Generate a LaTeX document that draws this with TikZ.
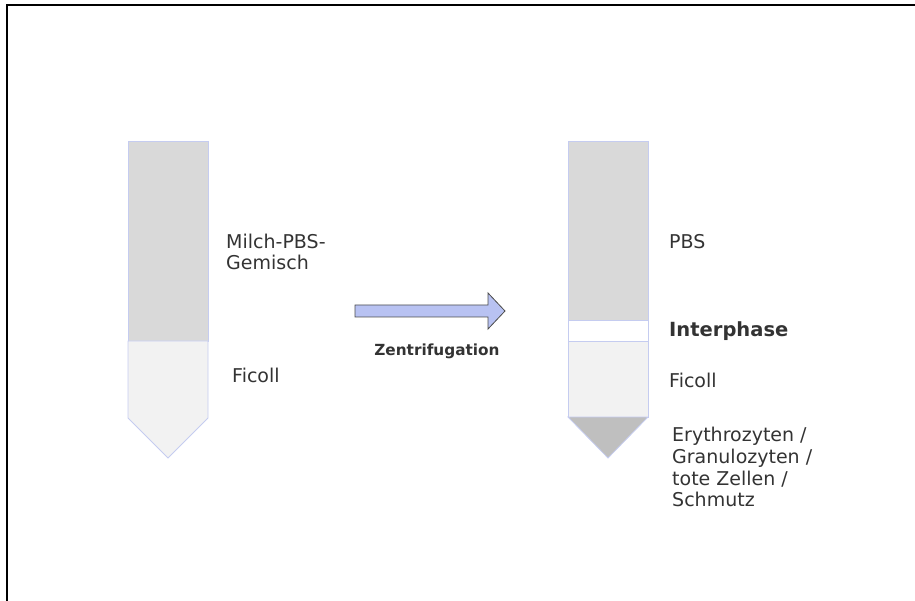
\documentclass[tikz,border=0pt]{standalone}
\usepackage{fontspec}
\setmainfont{DejaVu Sans}
\definecolor{tubeline}{HTML}{C5CCF0}
\definecolor{darkfill}{HTML}{D9D9D9}
\definecolor{lightfill}{HTML}{F2F2F2}
\definecolor{sedfill}{HTML}{BFBFBF}
\definecolor{arrowfill}{HTML}{B8C2F2}
\definecolor{txt}{HTML}{333333}
\begin{document}
\begin{tikzpicture}[x=1pt,y=-1pt,
  layer/.style={draw=tubeline,line width=0.8pt},
  lbl/.style={anchor=west,inner sep=0pt,text=txt,font=\fontsize{19}{21.7}\selectfont,align=left},
  blbl/.style={lbl,font=\fontsize{19.5}{21.7}\selectfont\bfseries}]
\useasboundingbox (0,0) rectangle (915,601);
% frame
\draw[line width=2pt] (7,601) -- (7,5) -- (915,5);
% left tube
\filldraw[layer,fill=darkfill] (128,141) rectangle (208,341);
\filldraw[layer,fill=lightfill] (128,341) -- (208,341) -- (208,418) -- (168,458) -- (128,418) -- cycle;
% right tube
\filldraw[layer,fill=darkfill] (568,141) rectangle (648,320);
\filldraw[layer,fill=white] (568,320) rectangle (648,341);
\filldraw[layer,fill=lightfill] (568,341) rectangle (648,417);
\filldraw[layer,fill=sedfill] (568,417) -- (648,417) -- (608,458) -- cycle;
% arrow
\filldraw[draw=black!70,line width=0.8pt,fill=arrowfill]
  (355,305) -- (488,305) -- (488,293) -- (505,311) -- (488,329) -- (488,317) -- (355,317) -- cycle;
% labels
\node[lbl] (mix) at (226,252) {Milch-PBS-\\Gemisch};
\node[lbl] (fic1) at (232,375) {Ficoll};
\node[blbl,font=\fontsize{15.3}{18}\selectfont\bfseries,anchor=center] (zen) at (437,351) {Zentrifugation};
\node[lbl] (pbs) at (669,242) {PBS};
\node[blbl] (inter) at (669,331) {Interphase};
\node[lbl] (fic2) at (669,380) {Ficoll};
\node[lbl,anchor=north west] (ery) at (672,427) {Erythrozyten /\\Granulozyten /\\tote Zellen /\\Schmutz};
\end{tikzpicture}
\end{document}
